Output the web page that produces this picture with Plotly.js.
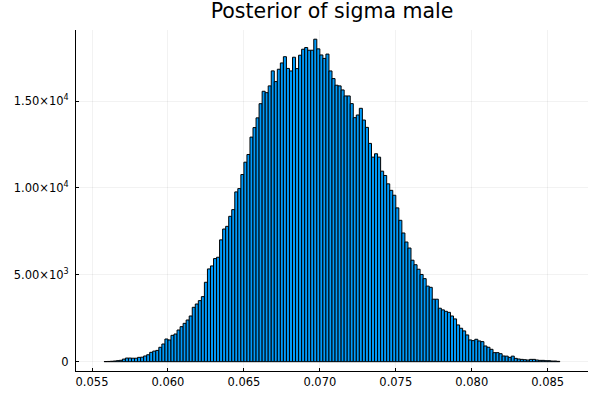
<!DOCTYPE html>
<html>
<head>
<meta charset="utf-8">
<script src="https://cdn.plot.ly/plotly-3.0.1.min.js"></script>
<style>
  html, body { margin: 0; padding: 0; background: #fff; }
  #plot { width: 600px; height: 400px; }
</style>
</head>
<body>
<div id="plot"></div>
<script>
// histogram bins: first left edge and width
const binStart = 0.0558;
const binWidth = 0.0002;

// counts per bin
const counts = [
  10, 15, 25, 40, 60, 80, 150, 210, 210, 200,
  200, 250, 260, 330, 400, 540, 610, 650, 830, 1018,
  1306, 1250, 1517, 1594, 1824, 2016, 2208, 2400, 2630, 3130,
  3320, 3514, 3744, 4570, 5338, 5510, 5933, 6010, 7010, 7634,
  7788, 8365, 8750, 9769, 9961, 10769, 11480, 11923, 12923, 13470,
  14030, 14846, 15560, 15480, 15870, 16733, 16118, 16828, 17190, 17550,
  16875, 16730, 17519, 16865, 17634, 17980, 18077, 17922, 17922, 18557,
  18000, 17650, 17450, 17700, 16730, 16290, 15908, 15870, 15637, 15291,
  15291, 14850, 14042, 14196, 14580, 13906, 13484, 12561, 11771, 11965,
  11771, 10963, 10715, 10234, 9860, 9578, 8850, 8136, 7406, 6886,
  6540, 5840, 5580, 5320, 5020, 4780, 4350, 4280, 3596, 3596,
  3077, 2981, 2900, 2840, 2630, 2462, 2116, 1925, 1771, 1540,
  1252, 1213, 1290, 1194, 1155, 905, 830, 713, 520, 520,
  460, 330, 320, 250, 320, 192, 154, 135, 115, 96,
  135, 135, 96, 77, 77, 58, 58, 38, 38, 20
];

const xTicks = [0.055, 0.060, 0.065, 0.070, 0.075, 0.080, 0.085];
const yTickVals = [0, 5000, 10000, 15000];
const yTickText = ['0', '5.00×10<sup>3</sup>', '1.00×10<sup>4</sup>', '1.50×10<sup>4</sup>'];

// bin centres
const centers = counts.map((c, i) => binStart + binWidth * (i + 0.5));

const trace = {
  type: 'bar',
  x: centers,
  y: counts,
  width: binWidth,
  marker: {
    color: '#009af9',
    line: { color: '#000000', width: 1 }
  },
  hoverinfo: 'x+y'
};

const axisCommon = {
  showline: true,
  linecolor: '#000000',
  linewidth: 1,
  mirror: false,
  showgrid: true,
  gridcolor: 'rgba(0,0,0,0.1)',
  gridwidth: 0.5,
  zeroline: false,
  ticks: 'inside',
  ticklen: 3,
  tickcolor: '#000000',
  tickfont: { family: 'DejaVu Sans', size: 11.5, color: '#000000' }
};

const layout = {
  width: 600,
  height: 400,
  margin: { l: 76, r: 12, t: 30, b: 29 },
  paper_bgcolor: '#ffffff',
  plot_bgcolor: '#ffffff',
  showlegend: false,
  bargap: 0,
  title: {
    text: 'Posterior of sigma male',
    font: { family: 'DejaVu Sans', size: 20.5, color: '#000000' },
    xref: 'paper',
    x: 0.5,
    xanchor: 'center',
    yref: 'container',
    y: 0.972,
    yanchor: 'middle'
  },
  xaxis: Object.assign({}, axisCommon, {
    range: [0.053947, 0.087653],
    tickvals: xTicks,
    tickformat: '.3f'
  }),
  yaxis: Object.assign({}, axisCommon, {
    range: [-535, 19086],
    tickvals: yTickVals,
    ticktext: yTickText,
    ticklabelstandoff: 4
  })
};

Plotly.newPlot('plot', [trace], layout, { displayModeBar: false, staticPlot: true });
</script>
</body>
</html>
